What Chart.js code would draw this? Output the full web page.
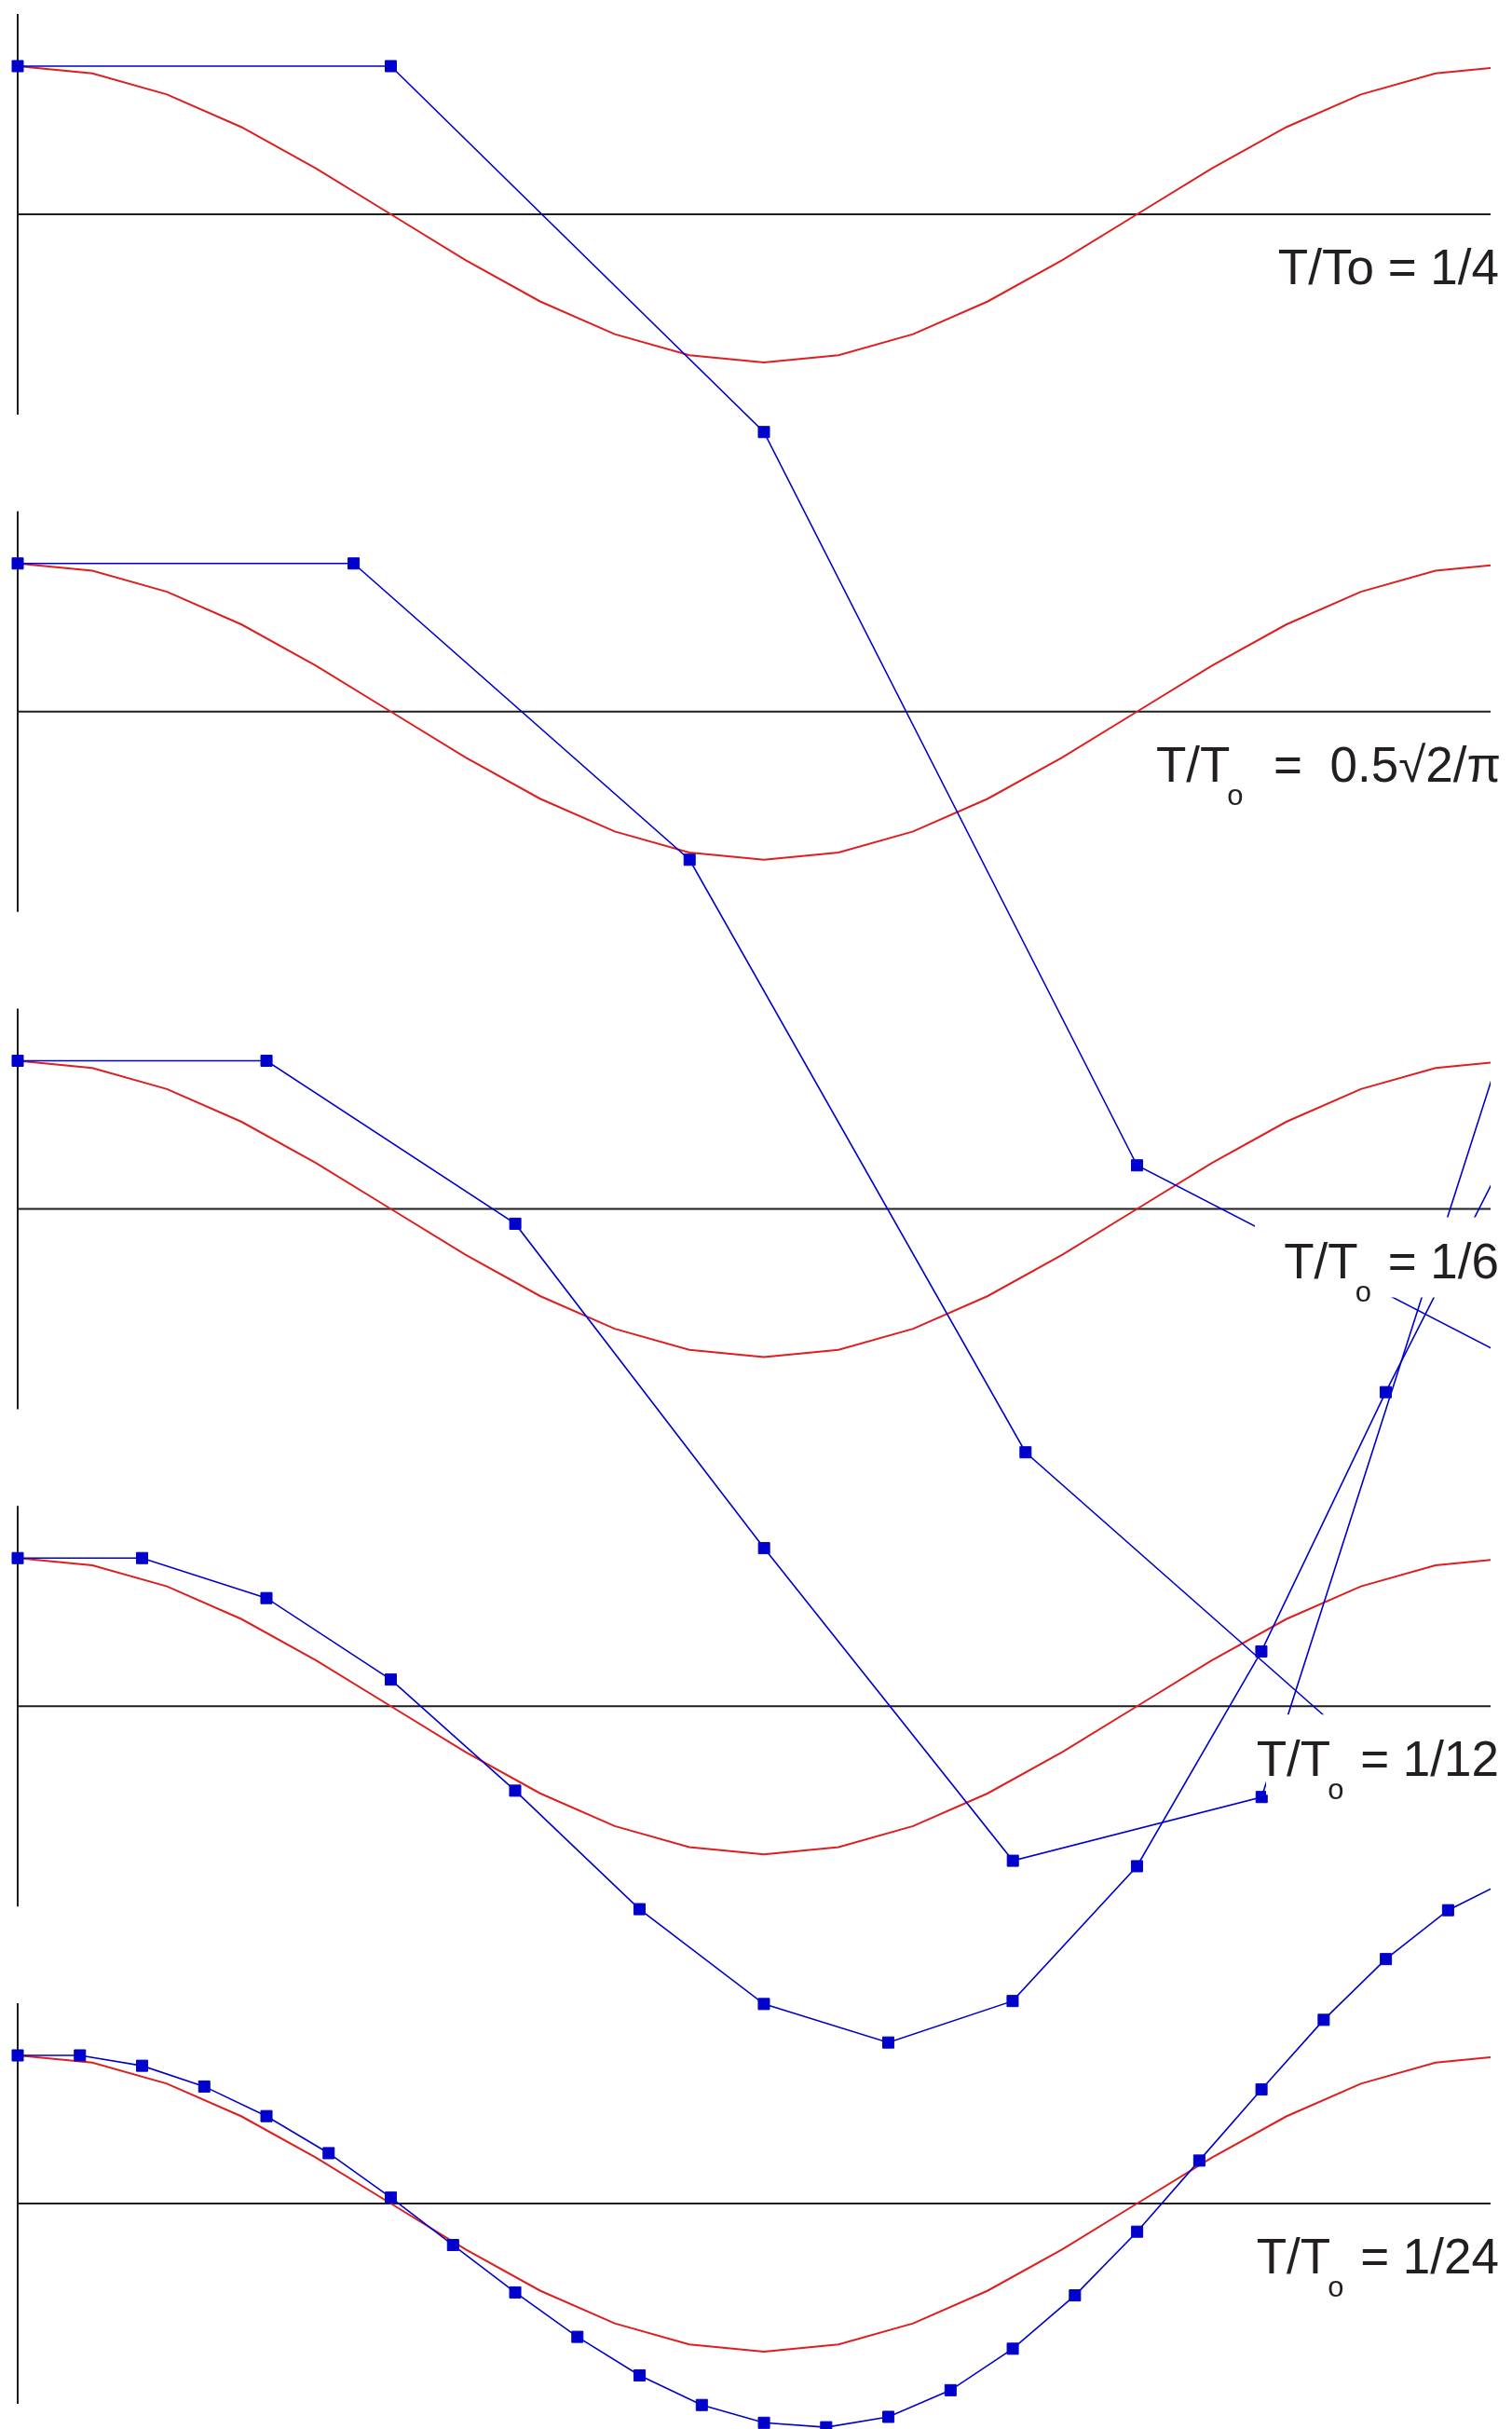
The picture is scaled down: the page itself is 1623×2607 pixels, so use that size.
<!DOCTYPE html>
<html>
<head>
<meta charset="utf-8">
<script src="https://cdn.jsdelivr.net/npm/chart.js@4.4.0/dist/chart.umd.min.js"></script>
<style>
html, body { margin: 0; padding: 0; background: #fff; }
#wrap { position: relative; width: 1623px; height: 2607px; }
</style>
</head>
<body>
<div id="wrap"><canvas id="chart"></canvas></div>
<script>
// exact solution, one period (t/To)
const exactTimes = [0, 0.05, 0.1, 0.15, 0.2, 0.25, 0.3, 0.35, 0.4, 0.45, 0.5,
                    0.55, 0.6, 0.65, 0.7, 0.75, 0.8, 0.85, 0.9, 0.95, 1];
const exactValues = [1, 0.951, 0.809, 0.588, 0.309, 0, -0.309, -0.588, -0.809, -0.951, -1,
                     -0.951, -0.809, -0.588, -0.309, 0, 0.309, 0.588, 0.809, 0.951, 1];

// time step T/To of each panel
const timeSteps = [0.25, 0.2251, 0.1667, 0.08333, 0.04167];

// numerical solution, one list per panel
const run1 = [1, 1, -1.47, -6.42, -7.72];
const run2 = [1, 1, -1.0, -5.0, -7.0];
const run3 = [1, 1, -0.10, -2.29, -4.40, -3.97, 1.27];
const run4 = [1, 1, 0.73, 0.18, -0.57, -1.37, -2.01, -2.27, -1.99, -1.08, 0.37, 2.12, 3.77];
const run5 = [1, 1, 0.93, 0.79, 0.59, 0.34, 0.04, -0.28, -0.60, -0.90, -1.16, -1.36, -1.48,
              -1.51, -1.44, -1.26, -0.98, -0.62, -0.19, 0.29, 0.77, 1.24, 1.65, 1.98, 2.19];
const runs = [run1, run2, run3, run4, run5];

// labels: [text, subscript?]
const labelRuns = [
    [['T/To = 1/4', false]],
    [['T/T', false], ['o', true], ['  =  0.5\u221A2/\u03C0', false]],
    [['T/T', false], ['o', true], [' = 1/6', false]],
    [['T/T', false], ['o', true], [' = 1/12', false]],
    [['T/T', false], ['o', true], [' = 1/24', false]]
];
const labelRight = [1609, 1611, 1609, 1609, 1609];
const boxLeft = [1350, 1240, 1347, 1359, 1340];

const panelGap = 3.357;   // vertical distance between panels, in amplitude units
const axisHalf = 1.352;

const BLUE = '#0000cc';
const RED = '#dd1f1f';
const BLACK = '#1e1e1e';
const sideClip = { left: 12, top: 12, bottom: 12, right: 0 };

const datasets = [];
runs.forEach((vals, i) => {
    const off = -i * panelGap;
    datasets.push({
        data: [{ x: 0, y: off + axisHalf }, { x: 0, y: off - axisHalf }],
        borderColor: BLACK, borderWidth: 2, pointRadius: 0, order: 3, clip: sideClip
    });
    datasets.push({
        data: [{ x: 0, y: off }, { x: 1, y: off }],
        borderColor: BLACK, borderWidth: 2, pointRadius: 0, order: 3, clip: sideClip
    });
    datasets.push({
        data: exactTimes.map((t, k) => ({ x: t, y: off + exactValues[k] })),
        borderColor: RED, borderWidth: 2, pointRadius: 0, order: 2, clip: sideClip
    });
    datasets.push({
        data: vals.map((v, k) => ({ x: k * timeSteps[i], y: off + v })),
        borderColor: BLUE, borderWidth: 1.6,
        pointStyle: 'rect', pointRadius: 8.5, pointBorderWidth: 1,
        pointBackgroundColor: BLUE, pointBorderColor: BLUE,
        order: 1, clip: sideClip
    });
});

const mainFont = '53px "Liberation Sans", Arial, sans-serif';
const subFont = '31px "Liberation Sans", Arial, sans-serif';

const panelLabels = {
    id: 'panelLabels',
    afterDatasetsDraw(chart) {
        const ctx = chart.ctx;
        const yScale = chart.scales.y;
        ctx.save();
        labelRuns.forEach((parts, i) => {
            const zero = yScale.getPixelForValue(-i * panelGap);
            const base = zero + 75;
            let w = 0;
            parts.forEach(p => {
                ctx.font = p[1] ? subFont : mainFont;
                w += ctx.measureText(p[0]).width;
            });
            ctx.fillStyle = '#ffffff';
            ctx.fillRect(boxLeft[i], zero + 9, chart.width - boxLeft[i], base + 20 - (zero + 9));
            let x = labelRight[i] - w;
            ctx.fillStyle = '#231f20';
            ctx.textBaseline = 'alphabetic';
            ctx.textAlign = 'left';
            parts.forEach(p => {
                ctx.font = p[1] ? subFont : mainFont;
                ctx.fillText(p[0], p[1] ? x - 3 : x, p[1] ? base + 25 : base);
                x += ctx.measureText(p[0]).width;
            });
        });
        ctx.restore();
    }
};

new Chart(document.getElementById('chart'), {
    type: 'line',
    data: { datasets: datasets },
    options: {
        responsive: true,
        maintainAspectRatio: false,
        animation: false,
        layout: { autoPadding: false, padding: { left: 19, right: 23, top: 0, bottom: 0 } },
        scales: {
            x: { type: 'linear', min: 0, max: 0.98689, display: false },
            y: { type: 'linear', min: -14.95, max: 1.4465, display: false }
        },
        plugins: { legend: { display: false }, tooltip: { enabled: false } },
        elements: { line: { tension: 0, fill: false } }
    },
    plugins: [panelLabels]
});
</script>
</body>
</html>
